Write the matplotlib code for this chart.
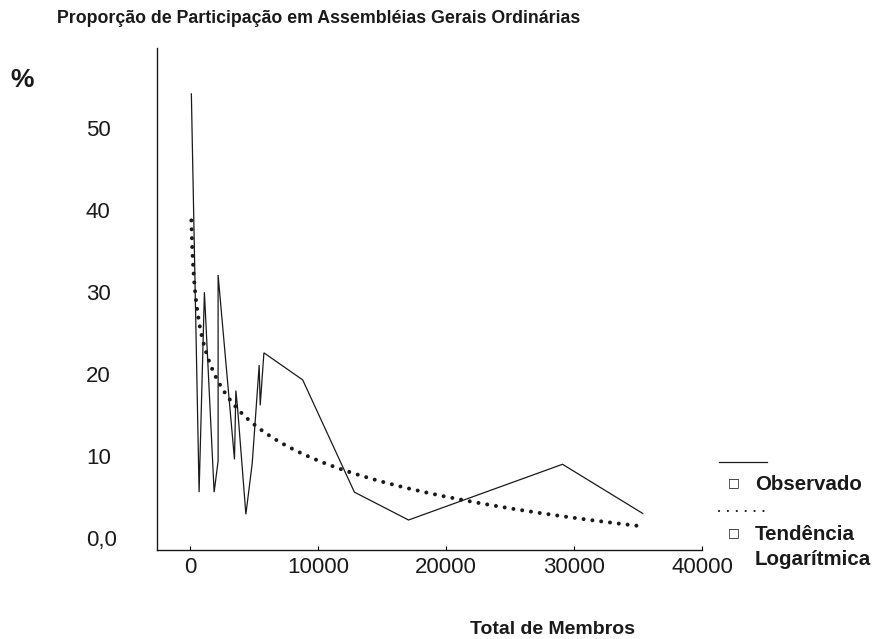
import numpy as np
import matplotlib
matplotlib.use("Agg")
import matplotlib.pyplot as plt
from matplotlib.lines import Line2D

# ---- data ----
members = [100, 705, 1120, 1880, 2190, 2190, 3470, 3580, 3710, 4360, 4855,
           5400, 5480, 5770, 8800, 12840, 17070, 29100, 35370]
participation = [54.2, 5.6, 30.0, 5.6, 9.4, 32.1, 9.6, 18.0, 15.9, 2.9, 9.1,
                 21.1, 16.2, 22.6, 19.3, 5.6, 2.2, 9.0, 3.0]
x_ticks = [0, 10000, 20000, 30000, 40000]
y_ticks = [0, 10, 20, 30, 40, 50]
y_ticklabels = ["0,0", "10", "20", "30", "40", "50"]

title = "Proporção de Participação em Assembléias Gerais Ordinárias"
x_label = "Total de Membros"
y_label = "%"
legend_labels = ["Observado", "Tendência", "Logarítmica"]

plt.rcParams['font.family'] = ['Liberation Sans', 'DejaVu Sans']

W, H = 877, 639
fig = plt.figure(figsize=(W / 100, H / 100), dpi=100)
ax = fig.add_axes([157 / W, 1 - 550 / H, (702 - 157) / W, (550 - 48) / H])

x = np.array(members, dtype=float)
y = np.array(participation, dtype=float)

# observed series
ax.plot(x, y, color='#1a1a1a', lw=0.9, solid_joinstyle='miter')

# logarithmic trend line (least squares on ln x, as in spreadsheet trendlines)
b, a = np.polyfit(np.log(x), y, 1)
xt = np.linspace(x.min(), x.max(), 4000)
yt = a + b * np.log(xt)
ax.plot(xt, yt, color='#1a1a1a', lw=2.9, linestyle=(0, (0.001, 2.2)),
        dash_capstyle='round')

ax.set_xlim(-2584, 40000)
ax.set_ylim(-1.46, 59.8)

for s in ['top', 'right']:
    ax.spines[s].set_visible(False)
for s in ['left', 'bottom']:
    ax.spines[s].set_linewidth(1.0)
    ax.spines[s].set_color('#1a1a1a')

ax.set_xticks(x_ticks)
ax.set_xticklabels([str(t) for t in x_ticks], fontsize=16, color='#1a1a1a')
ax.tick_params(axis='x', direction='in', length=3, width=0.8, pad=5)
ax.set_yticks(y_ticks)
ax.set_yticklabels(y_ticklabels, fontsize=16, color='#1a1a1a', ha='left')
ax.tick_params(axis='y', length=0, pad=(157 - 86) * 0.72)

fig.text(57 / W, 1 - 23 / H, title, fontsize=12.75, fontweight='bold',
         ha='left', va='baseline', color='#1a1a1a')
fig.text(10 / W, 1 - 87 / H, y_label, fontsize=19, fontweight='bold',
         ha='left', va='baseline', color='#1a1a1a')
fig.text(470 / W, 1 - 634 / H, x_label, fontsize=14, fontweight='bold',
         ha='left', va='baseline', color='#1a1a1a')

# legend drawn to the right of the plot
fig.add_artist(Line2D([719 / W, 767 / W], [1 - 462 / H, 1 - 462 / H],
                      transform=fig.transFigure, color='#1a1a1a', lw=0.9))
fig.add_artist(Line2D([719 / W, 765 / W], [1 - 511 / H, 1 - 511 / H],
                      transform=fig.transFigure, color='#1a1a1a', lw=1.6,
                      linestyle=(0, (0.001, 4.0)), dash_capstyle='round'))
for yy in (483, 533):
    fig.text(734 / W, 1 - yy / H, "□", fontsize=9, family='DejaVu Sans',
             ha='center', va='center', color='#1a1a1a')
fig.text(755 / W, 1 - 490 / H, legend_labels[0], fontsize=14.8,
         fontweight='bold', ha='left', va='baseline', color='#1a1a1a')
fig.text(755 / W, 1 - 540 / H, legend_labels[1], fontsize=14.8,
         fontweight='bold', ha='left', va='baseline', color='#1a1a1a')
fig.text(755 / W, 1 - 565 / H, legend_labels[2], fontsize=14.8,
         fontweight='bold', ha='left', va='baseline', color='#1a1a1a')

fig.savefig("out.png", dpi=100)
